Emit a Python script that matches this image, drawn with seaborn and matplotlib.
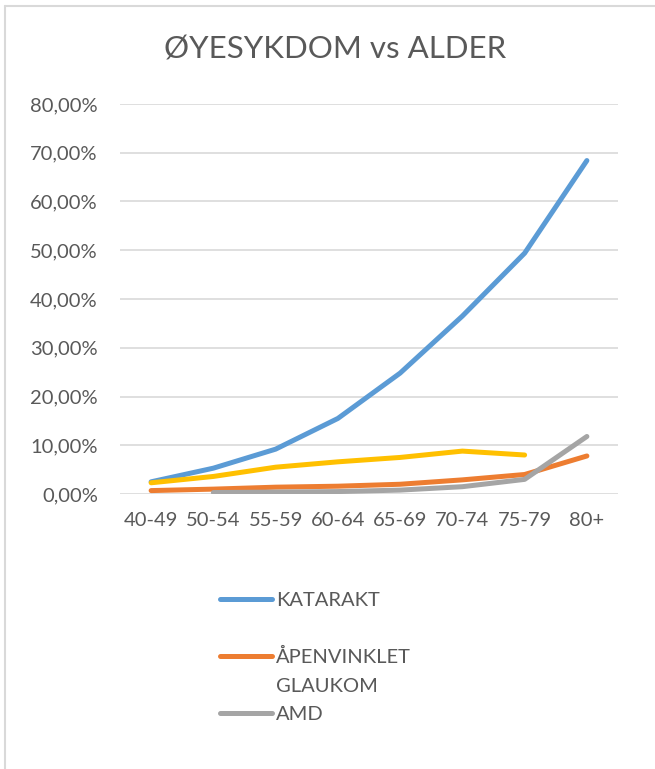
import numpy as np
import pandas as pd
import seaborn as sns
import matplotlib.pyplot as plt
from matplotlib.lines import Line2D
from matplotlib.ticker import FuncFormatter

ages = ["40-49", "50-54", "55-59", "60-64", "65-69", "70-74", "75-79", "80+"]
katarakt = [0.025, 0.053, 0.092, 0.155, 0.248, 0.365, 0.494, 0.684]
glaukom = [0.007, 0.010, 0.014, 0.016, 0.020, 0.029, 0.040, 0.078]
amd = [np.nan, 0.003, 0.004, 0.005, 0.008, 0.015, 0.030, 0.118]
serie4 = [0.023, 0.036, 0.055, 0.066, 0.075, 0.088, 0.080, np.nan]

names = ["KATARAKT", "ÅPENVINKLET\nGLAUKOM", "AMD", "Serie4"]
colors = ["#5B9BD5", "#ED7D31", "#A5A5A5", "#FFC000"]

df = pd.concat([
    pd.DataFrame({"alder": ages, "andel": vals, "serie": name})
    for name, vals in zip(names, [katarakt, glaukom, amd, serie4])
])
df = df.dropna()

sns.set_style("white")
plt.rcParams["font.family"] = ["Lato", "DejaVu Sans"]
txt = "#595959"

fig = plt.figure(figsize=(6.55, 7.69), dpi=100)
ax = fig.add_axes([120 / 655, 1 - 494 / 769, 498 / 655, 390 / 769])

sns.lineplot(data=df, x="alder", y="andel", hue="serie", hue_order=names,
             palette=dict(zip(names, colors)), linewidth=3.6, sort=False,
             estimator=None, legend=False, ax=ax)
for ln in ax.lines:
    ln.set_solid_capstyle("round")
    ln.set_solid_joinstyle("round")

ax.set_xlim(-0.5, len(ages) - 0.5)
ax.set_ylim(0, 0.8)
ax.set_yticks(np.arange(0, 0.81, 0.1))
ax.yaxis.set_major_formatter(FuncFormatter(lambda v, p: f"{v * 100:.2f}%".replace(".", ",")))
ax.grid(axis="y", color="#D9D9D9", linewidth=1.2)
ax.set_axisbelow(True)
for s in ax.spines.values():
    s.set_visible(False)
ax.tick_params(length=0, labelsize=14.5, colors=txt)
ax.tick_params(axis="y", pad=16)
ax.tick_params(axis="x", pad=13)
ax.set_xlabel("")
ax.set_ylabel("")

fig.text(0.512, 1 - 50 / 769, "ØYESYKDOM vs ALDER", ha="center", va="center",
         fontsize=22.5, color=txt)

# legend (the fourth series is not listed in the original)
handles = [Line2D([], [], color=colors[0], lw=3.6, solid_capstyle="round"),
           Line2D([], [], color="none"),
           Line2D([], [], color=colors[1], lw=3.6, solid_capstyle="round"),
           Line2D([], [], color="none"),
           Line2D([], [], color=colors[2], lw=3.6, solid_capstyle="round")]
labels = ["KATARAKT", "", "ÅPENVINKLET", "GLAUKOM", "AMD"]
leg = fig.legend(handles, labels, loc="upper left",
                 bbox_to_anchor=(220 / 655, 1 - 592 / 769), frameon=False,
                 fontsize=14.5, labelcolor=txt, handlelength=2.6,
                 handletextpad=0.2, labelspacing=0.55, borderpad=0,
                 borderaxespad=0)

# chart frame
fig.add_artist(Line2D([5 / 655, 5 / 655], [0, 1 - 6 / 769], color="#D9D9D9", lw=1.5))
fig.add_artist(Line2D([5 / 655, 1], [1 - 6 / 769, 1 - 6 / 769], color="#D9D9D9", lw=1.5))

fig.savefig("out.png", dpi=100)
